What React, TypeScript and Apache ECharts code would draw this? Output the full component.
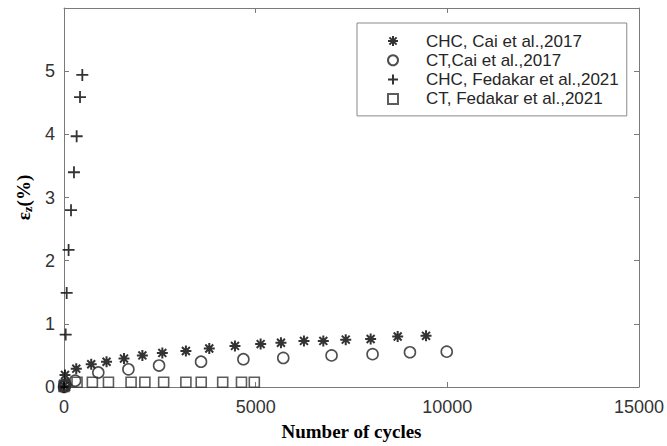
import React, { useEffect, useRef } from "react";
import * as echarts from "echarts";

const seriesNames = [
  "CHC, Cai et al.,2017",
  "CT,Cai et al.,2017",
  "CHC, Fedakar et al.,2021",
  "CT, Fedakar et al.,2021",
];

const chcCai: [number, number][] = [
  [0, 0.02], [26, 0.19], [320, 0.29], [710, 0.36], [1110, 0.4], [1565, 0.45],
  [2045, 0.5], [2565, 0.54], [3180, 0.57], [3790, 0.61], [4460, 0.65],
  [5130, 0.68], [5660, 0.7], [6260, 0.73], [6765, 0.73], [7350, 0.75],
  [8000, 0.76], [8705, 0.8], [9445, 0.81],
];

const ctCai: [number, number][] = [
  [0, 0.0], [15, 0.02], [40, 0.04], [290, 0.1], [895, 0.23], [1680, 0.28],
  [2480, 0.34], [3575, 0.4], [4680, 0.44], [5720, 0.46], [6980, 0.5],
  [8050, 0.52], [9025, 0.55], [9985, 0.56],
];

const chcFedakar: [number, number][] = [
  [0, 0.0], [44, 0.83], [70, 1.49], [120, 2.17], [183, 2.8], [260, 3.4],
  [330, 3.97], [418, 4.59], [478, 4.94],
];

const ctFedakar: [number, number][] = [
  [0, 0.01], [20, 0.03], [340, 0.075], [740, 0.075], [1160, 0.075],
  [1750, 0.075], [2110, 0.075], [2600, 0.075], [3180, 0.075], [3580, 0.075],
  [4140, 0.075], [4630, 0.075], [4965, 0.075],
];

const xTicks = { min: 0, max: 15000, interval: 5000 };
const yTicks = { min: 0, max: 6, interval: 1 };

const ASTERISK =
  "path://M0,-1L0,1M-1,0L1,0M-0.72,-0.72L0.72,0.72M-0.72,0.72L0.72,-0.72";
const PLUS = "path://M0,-1L0,1M-1,0L1,0";

const AXIS_COLOR = "#7a7a7a";
const LABEL_COLOR = "#333";

export default function App() {
  const ref = useRef<HTMLDivElement>(null);
  useEffect(() => {
    if (!ref.current) return;
    const chart = echarts.init(ref.current, undefined, { renderer: "svg" });
    const baseAxisX = {
      type: "value" as const,
      min: xTicks.min,
      max: xTicks.max,
      interval: xTicks.interval,
      splitLine: { show: false },
      axisLine: { show: true, onZero: false, lineStyle: { color: AXIS_COLOR, width: 1 } },
      axisTick: { show: true, inside: true, length: 5, lineStyle: { color: AXIS_COLOR } },
    };
    const baseAxisY = {
      type: "value" as const,
      min: yTicks.min,
      max: yTicks.max,
      interval: yTicks.interval,
      splitLine: { show: false },
      axisLine: { show: true, onZero: false, lineStyle: { color: AXIS_COLOR, width: 1 } },
      axisTick: { show: true, inside: true, length: 5, lineStyle: { color: AXIS_COLOR } },
    };
    chart.setOption({
      animation: false,
      backgroundColor: "#fff",
      grid: { left: 64, right: 28, top: 8, bottom: 59, containLabel: false },
      legend: {
        orient: "vertical",
        left: 357,
        top: 23,
        padding: [9, 8, 8, 30],
        itemGap: 1.3,
        itemWidth: 10,
        itemHeight: 10,
        backgroundColor: "#fff",
        borderColor: "#8a8a8a",
        borderWidth: 1,
        borderRadius: 0,
        data: seriesNames,
        textStyle: {
          fontFamily: "Liberation Sans, Arial, sans-serif",
          fontSize: 17,
          lineHeight: 18,
          color: "#262626",
          padding: [0, 0, 0, 23],
        },
      },
      xAxis: [
        {
          ...baseAxisX,
          position: "bottom",
          name: "Number of cycles",
          nameLocation: "middle",
          nameGap: 35,
          nameTextStyle: {
            fontFamily: "Liberation Serif, Times New Roman, serif",
            fontWeight: "bold",
            fontSize: 19,
            color: "#000",
          },
          axisLabel: {
            show: true,
            margin: 11,
            fontFamily: "Liberation Sans, Arial, sans-serif",
            fontSize: 18,
            color: LABEL_COLOR,
            formatter: (v: number) => String(v),
          },
        },
        {
          ...baseAxisX,
          position: "top",
          axisLabel: { show: false },
        },
      ],
      yAxis: [
        {
          ...baseAxisY,
          position: "left",
          name: "{e|ε}{s|z}{e|(%)}",
          nameLocation: "middle",
          nameGap: 26,
          nameRotate: 90,
          nameTextStyle: {
            rich: {
              e: {
                fontFamily: "Liberation Serif, Times New Roman, serif",
                fontWeight: "bold",
                fontSize: 19,
                color: "#000",
                lineHeight: 22,
              },
              s: {
                fontFamily: "Liberation Serif, Times New Roman, serif",
                fontWeight: "bold",
                fontSize: 13,
                color: "#000",
                lineHeight: 22,
                verticalAlign: "bottom",
                padding: [8, 0, 0, 0],
              },
            },
          },
          axisLabel: {
            show: true,
            margin: 9,
            fontFamily: "Liberation Sans, Arial, sans-serif",
            fontSize: 18,
            color: LABEL_COLOR,
            formatter: (v: number) => (v >= yTicks.max ? "" : String(v)),
          },
        },
        {
          ...baseAxisY,
          position: "right",
          axisLabel: { show: false },
        },
      ],
      series: [
        {
          name: seriesNames[0],
          type: "scatter",
          data: chcCai,
          symbol: ASTERISK,
          symbolSize: 11,
          itemStyle: { color: "#000", borderColor: "#000", borderWidth: 2 },
        },
        {
          name: seriesNames[1],
          type: "scatter",
          data: ctCai,
          symbol: "circle",
          symbolSize: 11,
          itemStyle: { color: "rgba(0,0,0,0)", borderColor: "#222", borderWidth: 1.6 },
        },
        {
          name: seriesNames[2],
          type: "scatter",
          data: chcFedakar,
          symbol: PLUS,
          symbolSize: 12,
          itemStyle: { color: "#000", borderColor: "#000", borderWidth: 1.8 },
        },
        {
          name: seriesNames[3],
          type: "scatter",
          data: ctFedakar,
          symbol: "rect",
          symbolSize: 10,
          itemStyle: { color: "rgba(0,0,0,0)", borderColor: "#333", borderWidth: 1.6 },
        },
      ],
    });
    return () => chart.dispose();
  }, []);
  return <div ref={ref} style={{ width: 667, height: 446, position: "fixed", left: 0, top: 0 }} />;
}
